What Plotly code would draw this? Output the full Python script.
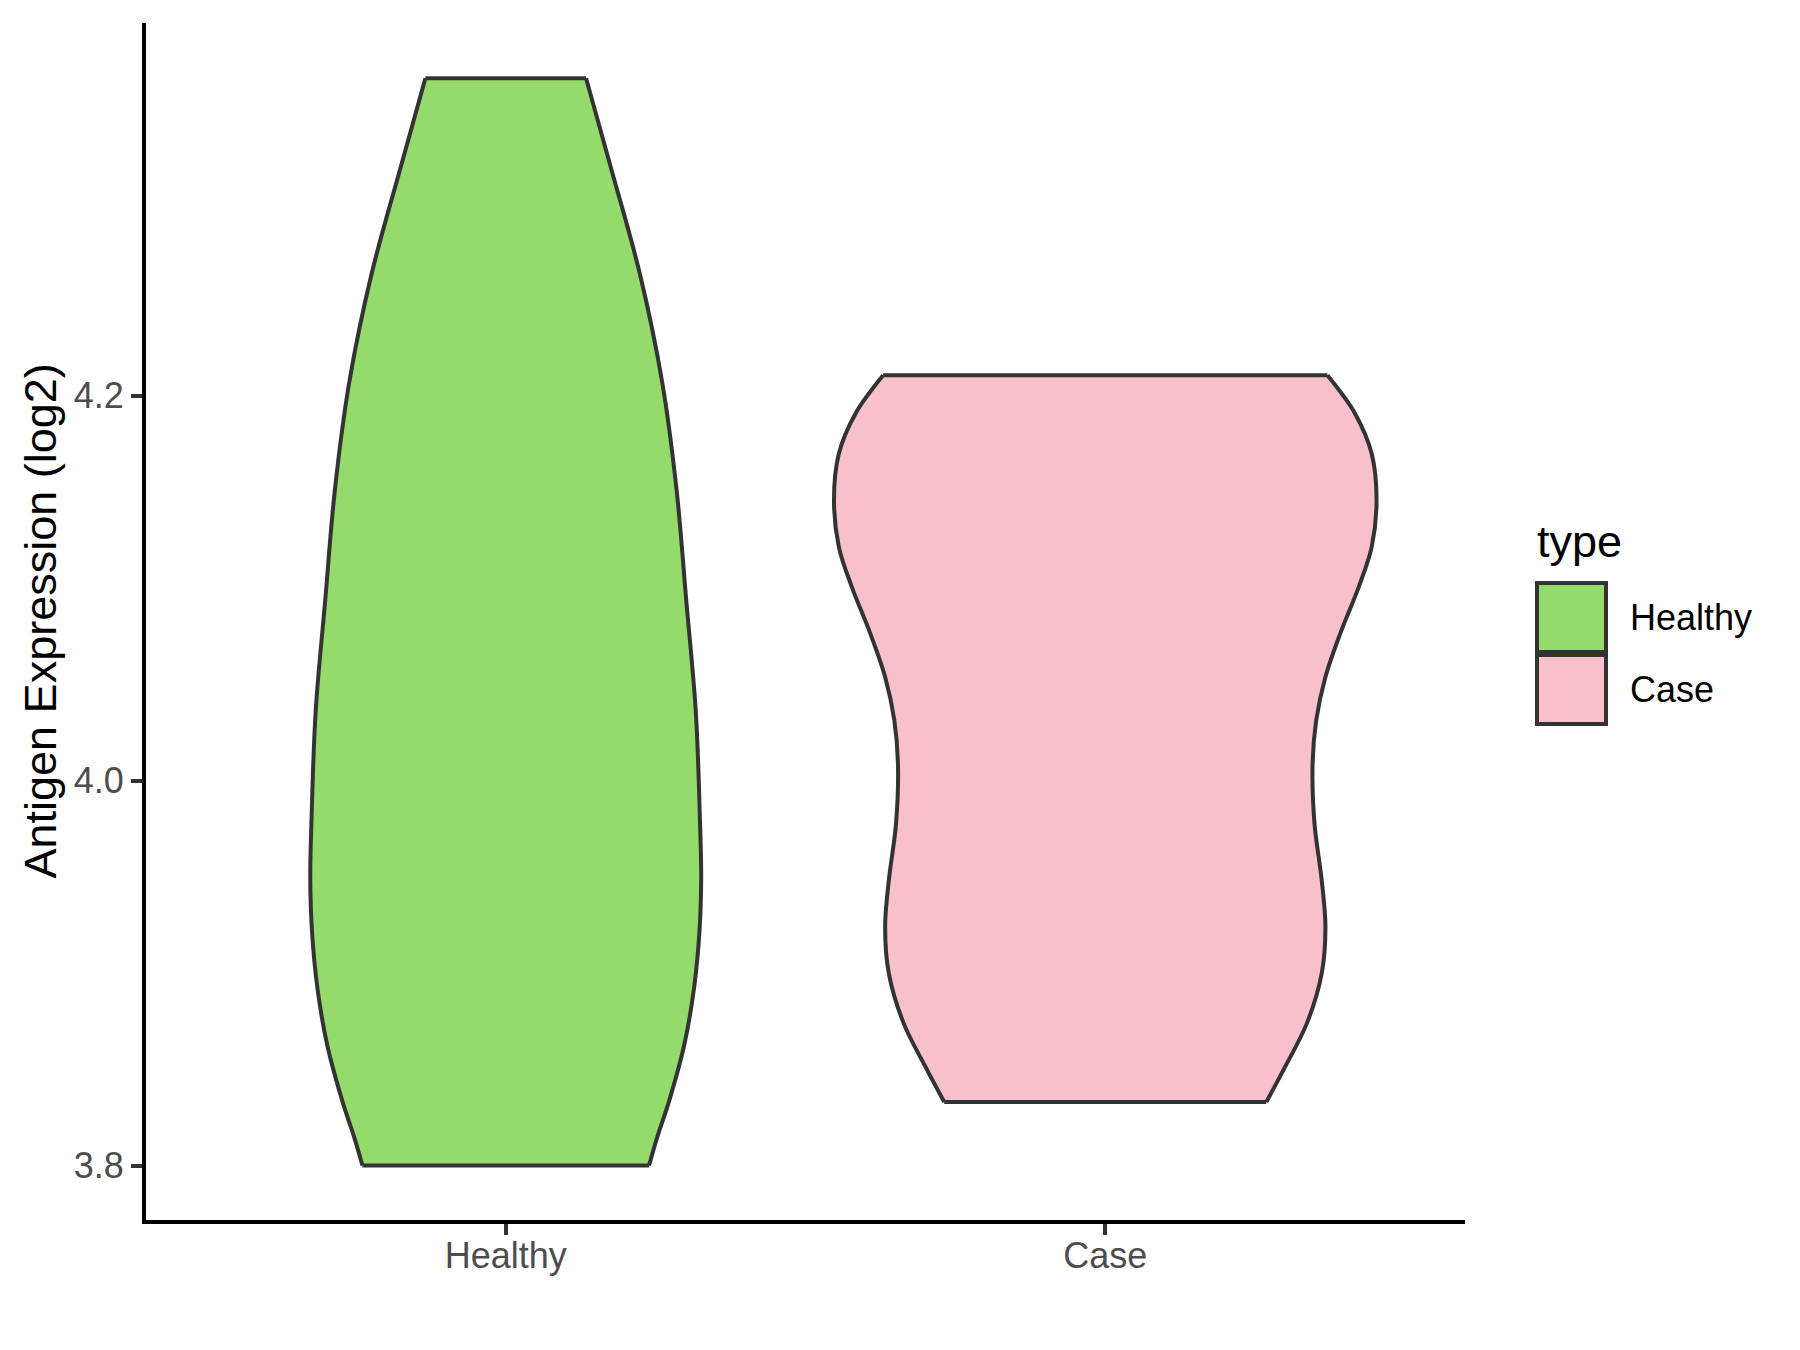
import plotly.graph_objects as go

# ---- data (violin outline: value, half-width in category units) ----
categories = ["Healthy", "Case"]
fill_colors = ["#94DB6B", "#F8C0CB"]

healthy_y = [3.800, 3.815, 3.834, 3.863, 3.892, 3.921, 3.949, 3.979, 4.036, 4.094,
             4.151, 4.207, 4.263, 4.319, 4.365]
healthy_hw = [0.239, 0.253, 0.273, 0.298, 0.314, 0.323, 0.326, 0.324, 0.317, 0.301,
              0.285, 0.261, 0.224, 0.175, 0.134]

case_y = [3.833, 3.851, 3.874, 3.900, 3.924, 3.948, 3.978, 4.009, 4.0315, 4.0539,
          4.0765, 4.1007, 4.1215, 4.1457, 4.1699, 4.1907, 4.2106]
case_hw = [0.2686, 0.2994, 0.3364, 0.3611, 0.3672, 0.3611, 0.3489, 0.3458, 0.3519, 0.3672,
           0.3920, 0.4228, 0.4444, 0.4525, 0.4444, 0.4167, 0.3705]

y_ticks = [3.8, 4.0, 4.2]
y_tick_labels = ["3.8", "4.0", "4.2"]
y_title = "Antigen Expression (log2)"
legend_title = "type"

profiles = [(healthy_y, healthy_hw), (case_y, case_hw)]

# ---- layout geometry (pixels) ----
W, H = 1800, 1350
L, R, T, B = 146, 335, 23, 130
PW, PH = W - L - R, H - T - B
OUT = "#333333"
FONT = "Liberation Sans, Arial, sans-serif"
LW = 4


def px2x(px):
    return (px - L) / PW


def py2y(py):
    return (H - B - py) / PH


fig = go.Figure()
for i, (cat, (yv, hw)) in enumerate(zip(categories, profiles)):
    c = i + 1
    left = [c - w for w in hw]
    right = [c + w for w in hw]
    fig.add_trace(go.Scatter(x=left, y=yv, mode="lines",
                             line=dict(color=OUT, width=LW, shape="spline", smoothing=1),
                             hoverinfo="skip", showlegend=False))
    fig.add_trace(go.Scatter(x=right, y=yv, mode="lines", fill="tonextx",
                             fillcolor=fill_colors[i],
                             line=dict(color=OUT, width=LW, shape="spline", smoothing=1),
                             hoverinfo="skip", showlegend=False, name=cat))
    # flat top and bottom edges
    fig.add_trace(go.Scatter(x=[left[-1], right[-1]], y=[yv[-1], yv[-1]], mode="lines",
                             line=dict(color=OUT, width=LW), hoverinfo="skip", showlegend=False))
    fig.add_trace(go.Scatter(x=[left[0], right[0]], y=[yv[0], yv[0]], mode="lines",
                             line=dict(color=OUT, width=LW), hoverinfo="skip", showlegend=False))

# ---- manual legend (ggplot style) ----
shapes = []
annotations = []
annotations.append(dict(text=legend_title, x=px2x(1535), y=py2y(541), xref="paper", yref="paper",
                        xanchor="left", yanchor="middle", showarrow=False,
                        font=dict(size=45, color="black", family=FONT)))
key_top = 583
key_size = 69
key_pitch = 72
for i, cat in enumerate(categories):
    y0 = key_top + i * key_pitch
    shapes.append(dict(type="rect", xref="paper", yref="paper",
                       x0=px2x(1537), x1=px2x(1537 + key_size),
                       y0=py2y(y0), y1=py2y(y0 + key_size),
                       fillcolor=fill_colors[i], line=dict(color=OUT, width=LW)))
    annotations.append(dict(text=cat, x=px2x(1628), y=py2y(y0 + key_size / 2), xref="paper",
                            yref="paper", xanchor="left", yanchor="middle", showarrow=False,
                            font=dict(size=36, color="black", family=FONT)))

# y-axis title
annotations.append(dict(text=y_title, x=px2x(40), y=0.5, xref="paper", yref="paper",
                        xanchor="center", yanchor="middle", textangle=-90, showarrow=False,
                        font=dict(size=45, color="black", family=FONT)))

fig.update_layout(
    width=W, height=H, autosize=False,
    margin=dict(l=L, r=R, t=T, b=B, pad=0),
    paper_bgcolor="white", plot_bgcolor="white",
    font=dict(family=FONT),
    showlegend=False,
    shapes=shapes, annotations=annotations,
    xaxis=dict(range=[0.4, 2.6], tickmode="array", tickvals=[1, 2], ticktext=categories,
               showgrid=False, zeroline=False, showline=True, linecolor="black", linewidth=4,
               ticks="outside", ticklen=11, tickwidth=4, tickcolor=OUT, ticklabelstandoff=-10,
               tickfont=dict(size=36, color="#4D4D4D", family=FONT), fixedrange=True),
    yaxis=dict(range=[3.7717, 4.3937], tickmode="array", tickvals=y_ticks, ticktext=y_tick_labels,
               showgrid=False, zeroline=False, showline=True, linecolor="black", linewidth=4,
               ticks="outside", ticklen=11, tickwidth=4, tickcolor=OUT,
               tickfont=dict(size=36, color="#4D4D4D", family=FONT), fixedrange=True),
)

fig.write_html("out.html", config={"displayModeBar": False},
               post_script="document.body.style.margin='0';document.body.style.padding='0';")
